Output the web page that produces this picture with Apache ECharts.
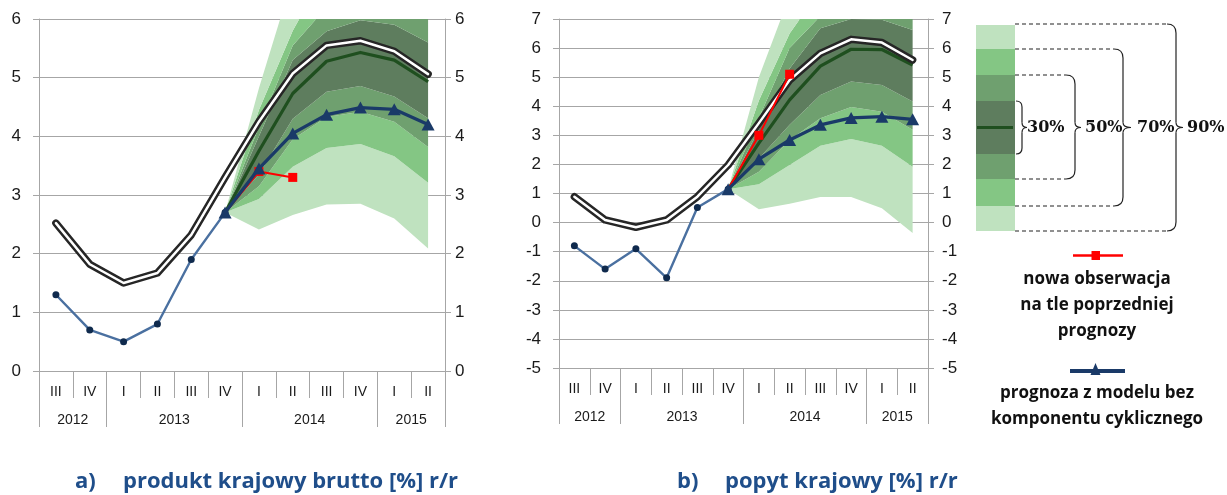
<!DOCTYPE html>
<html>
<head>
<meta charset="utf-8">
<title>Wachlarz prognoz</title>
<script src="https://cdn.jsdelivr.net/npm/echarts@6/dist/echarts.min.js"></script>
<style>
  html, body { margin: 0; padding: 0; background: #fff; }
  #chart { width: 1227px; height: 495px; }
</style>
</head>
<body>
<div id="chart"></div>
<script>
// ---- categories ----
const quarters = ['III', 'IV', 'I', 'II', 'III', 'IV', 'I', 'II', 'III', 'IV', 'I', 'II'];
const yearLabels = ['2012', '2013', '2014', '2015'];
const yearSpans = [2, 4, 4, 2];
const forecastStart = 5; // IV 2013: first point of the fan

// ---- a) produkt krajowy brutto [%] r/r ----
const gdpHistory = [1.3, 0.7, 0.5, 0.8, 1.9, 2.7, null, null, null, null, null, null];
const gdpPrevForecast = [2.52, 1.82, 1.5, 1.67, 2.32, 3.3, 4.25, 5.07, 5.55, 5.63, 5.45, 5.06];
const gdpNewObs = [2.7, 3.4, 3.3];
const gdpNoCycle = [2.7, 3.45, 4.05, 4.37, 4.49, 4.46, 4.2];
const gdpMedian = [2.7, 3.75, 4.73, 5.28, 5.43, 5.3, 4.93];
const gdpL90 = [2.7, 2.41, 2.66, 2.84, 2.85, 2.6, 2.09];
const gdpL70 = [2.7, 2.93, 3.48, 3.8, 3.87, 3.66, 3.21];
const gdpL50 = [2.7, 3.15, 3.95, 4.33, 4.42, 4.25, 3.82];
const gdpL30 = [2.7, 3.35, 4.3, 4.76, 4.86, 4.68, 4.31];
const gdpU30 = [2.7, 4.0, 5.3, 5.79, 5.98, 5.9, 5.6];
const gdpU50 = [2.7, 4.16, 5.55, 6.2, 6.4, 6.4, 6.2];
const gdpU70 = [2.7, 4.45, 5.8, 6.84, 7.0, 7.0, 6.8];
const gdpU90 = [2.7, 4.82, 6.7, 7.6, 8.0, 8.0, 7.8];

// ---- b) popyt krajowy [%] r/r ----
const ddHistory = [-0.8, -1.6, -0.9, -1.9, 0.52, 1.15, null, null, null, null, null, null];
const ddPrevForecast = [0.89, 0.09, -0.16, 0.09, 0.89, 1.98, 3.42, 4.9, 5.82, 6.3, 6.19, 5.59];
const ddNewObs = [1.15, 3.0, 5.1];
const ddNoCycle = [1.15, 2.18, 2.84, 3.36, 3.6, 3.64, 3.55];
const ddMedian = [1.15, 2.73, 4.22, 5.38, 5.96, 5.95, 5.42];
const ddL90 = [1.15, 0.46, 0.65, 0.88, 0.88, 0.49, -0.36];
const ddL70 = [1.15, 1.32, 1.98, 2.64, 2.87, 2.64, 1.92];
const ddL50 = [1.15, 1.75, 2.84, 3.59, 3.97, 3.81, 3.19];
const ddL30 = [1.15, 2.2, 3.36, 4.39, 4.85, 4.73, 4.16];
const ddU30 = [1.15, 3.2, 5.3, 6.68, 7.0, 6.97, 6.62];
const ddU50 = [1.15, 3.6, 6.0, 7.1, 7.6, 7.6, 7.3];
const ddU70 = [1.15, 4.2, 6.5, 8.0, 8.4, 8.4, 8.0];
const ddU90 = [1.15, 5.0, 7.8, 9.0, 9.5, 9.5, 9.0];

// ---- styles ----
const C = {
  grid: '#a6a6a6',
  text: '#1a1a1a',
  light: '#bfe2bf',
  medium: '#84c684',
  olive: '#6fa06f',
  dark: '#5e7d5e',
  median: '#1f4f1f',
  prev: '#262626',
  history: '#4a70a0',
  historyDot: '#0f2a4d',
  noCycle: '#1a3a68',
  red: '#ff0000',
  title: '#1f4e8a'
};
const sans = '"Liberation Sans", Arial, sans-serif';
const calibriLike = '"Open Sans", Lato, sans-serif';

const pad = arr => Array(forecastStart).fill(null).concat(arr);
const padTail = arr => arr.concat(Array(quarters.length - forecastStart - arr.length).fill(null));

function yearBounds() {
  const b = [0];
  yearSpans.forEach(s => b.push(b[b.length - 1] + s));
  return b;
}
function yearMids() {
  const b = yearBounds();
  return yearSpans.map((s, i) => b[i] + s / 2);
}

function xAxesFor(gi) {
  const mids = yearMids();
  return [
    {
      gridIndex: gi, type: 'category', data: quarters, boundaryGap: true,
      axisLine: { show: true, onZero: false, lineStyle: { color: C.grid, width: 1 } },
      axisTick: { show: true, interval: 0, length: 27, lineStyle: { color: C.grid } },
      axisLabel: { interval: 0, margin: 14, fontSize: 14, color: C.text, fontFamily: sans },
      splitLine: { show: false }
    },
    {
      gridIndex: gi, type: 'value', min: 0, max: quarters.length, position: 'bottom',
      axisLine: { show: false, onZero: false },
      axisTick: { show: true, customValues: yearBounds(), length: 56, lineStyle: { color: C.grid } },
      axisLabel: {
        customValues: mids, margin: 42, fontSize: 14, color: C.text, fontFamily: sans,
        formatter: v => yearLabels[mids.indexOf(v)] || ''
      },
      splitLine: { show: false }
    }
  ];
}

function yAxesFor(gi, min, max, leftMargin, rightMargin) {
  const common = {
    gridIndex: gi, type: 'value', min: min, max: max, interval: 1,
    axisLine: { show: true, onZero: false, lineStyle: { color: C.grid, width: 1 } },
    axisTick: { show: true, length: 6, lineStyle: { color: C.grid } },
  };
  return [
    Object.assign({}, common, {
      position: 'left',
      axisLabel: { margin: leftMargin, fontSize: 17, color: C.text, fontFamily: sans },
      splitLine: { show: true, lineStyle: { color: C.grid, width: 1 } }
    }),
    Object.assign({}, common, {
      position: 'right',
      axisLabel: { margin: rightMargin, fontSize: 17, color: C.text, fontFamily: sans, align: 'left' },
      splitLine: { show: false }
    })
  ];
}

function panelSeries(xi, yi, d) {
  const bands = [d.L90, d.L70, d.L50, d.L30, d.U30, d.U50, d.U70, d.U90];
  const fills = [null, C.light, C.medium, C.olive, C.dark, C.olive, C.medium, C.light];
  const stackId = 'fan' + xi;
  const out = bands.map((arr, k) => ({
    type: 'line', xAxisIndex: xi, yAxisIndex: yi,
    stack: stackId, stackStrategy: 'all',
    data: pad(arr.map((v, i) => k === 0 ? v : +(v - bands[k - 1][i]).toFixed(4))),
    symbol: 'none', silent: true, z: 1,
    lineStyle: { width: 0, opacity: 0 },
    areaStyle: k === 0 ? undefined : { color: fills[k], opacity: 1 }
  }));
  const base = { type: 'line', xAxisIndex: xi, yAxisIndex: yi, silent: true, animation: false };
  out.push(Object.assign({}, base, {
    data: pad(d.median), symbol: 'none', z: 3,
    lineStyle: { color: C.median, width: 3.2, join: 'round' }
  }));
  out.push(Object.assign({}, base, {
    data: d.prev, symbol: 'none', z: 4,
    lineStyle: { color: C.prev, width: 7.5, cap: 'round', join: 'round' }
  }));
  out.push(Object.assign({}, base, {
    data: d.prev, symbol: 'none', z: 5,
    lineStyle: { color: '#ffffff', width: 2.5, cap: 'round', join: 'round' }
  }));
  out.push(Object.assign({}, base, {
    data: d.history, symbol: 'circle', symbolSize: 7, z: 6,
    itemStyle: { color: C.historyDot },
    lineStyle: { color: C.history, width: 2.4 }
  }));
  // the new observation starts from the last historical point, which carries no marker
  const obs = padTail(d.newObs).map((v, i) => (i === 0 && v != null) ? { value: v, symbol: 'none' } : v);
  out.push(Object.assign({}, base, {
    data: pad(obs),
    symbol: 'rect', symbolSize: 9, z: 7,
    itemStyle: { color: C.red },
    lineStyle: { color: C.red, width: 2 }
  }));
  out.push(Object.assign({}, base, {
    data: pad(d.noCycle), symbol: 'triangle', symbolSize: [13, 12], z: 8,
    itemStyle: { color: C.noCycle },
    lineStyle: { color: C.noCycle, width: 3.3 }
  }));
  return out;
}

const seriesA = panelSeries(0, 0, {
  history: gdpHistory, prev: gdpPrevForecast, newObs: gdpNewObs, noCycle: gdpNoCycle,
  median: gdpMedian, L90: gdpL90, L70: gdpL70, L50: gdpL50, L30: gdpL30,
  U30: gdpU30, U50: gdpU50, U70: gdpU70, U90: gdpU90
});
const seriesB = panelSeries(2, 2, {
  history: ddHistory, prev: ddPrevForecast, newObs: ddNewObs, noCycle: ddNoCycle,
  median: ddMedian, L90: ddL90, L70: ddL70, L50: ddL50, L30: ddL30,
  U30: ddU30, U50: ddU50, U70: ddU70, U90: ddU90
});

// ---- fan legend (colour key with probability braces) ----
const keyX = 976, keyW = 39;
const keyRows = [
  [25, 49, C.light], [49, 75, C.medium], [75, 101, C.olive], [101, 154, C.dark],
  [154, 179, C.olive], [179, 206, C.medium], [206, 231, C.light]
];
const braceMidY = 127.5;
const braces = [
  // [top, bottom, braceX, tipX, labelX, label]
  [101, 154, 1022, 1027, 1027, '30%'],
  [75, 179, 1075, 1081, 1085, '50%'],
  [49, 206, 1123, 1131, 1137, '70%'],
  [24, 231, 1176, 1183, 1187, '90%']
];
const legendGraphics = [];
keyRows.forEach(r => legendGraphics.push({
  type: 'rect', shape: { x: keyX, y: r[0], width: keyW, height: r[1] - r[0] },
  style: { fill: r[2] }, silent: true
}));
legendGraphics.push({
  type: 'line', shape: { x1: keyX + 1, y1: braceMidY, x2: keyX + keyW - 2, y2: braceMidY },
  style: { stroke: C.median, lineWidth: 3 }, silent: true
});
const braceStroke = { stroke: '#222', lineWidth: 1.2, fill: null };
function curve(x1, y1, cx, cy, x2, y2) {
  return { type: 'bezierCurve', shape: { x1: x1, y1: y1, cpx1: cx, cpy1: cy, x2: x2, y2: y2 },
    style: braceStroke, silent: true };
}
function seg(x1, y1, x2, y2, dash) {
  return { type: 'line', shape: { x1: x1, y1: y1, x2: x2, y2: y2 },
    style: dash ? { stroke: '#222', lineWidth: 1.1, lineDash: [4, 3] } : braceStroke, silent: true };
}
braces.forEach((b, i) => {
  const [t, bt, bx, tx, lx, label] = b;
  const r = i === 0 ? 6 : 9;
  const m = braceMidY;
  if (i > 0) {
    legendGraphics.push(seg(keyX + keyW, t, bx - r, t, true));
    legendGraphics.push(seg(keyX + keyW, bt, bx - r, bt, true));
  }
  legendGraphics.push(
    curve(bx - r, t, bx, t, bx, t + r),
    seg(bx, t + r, bx, m - 5),
    curve(bx, m - 5, bx, m, tx, m),
    curve(tx, m, bx, m, bx, m + 5),
    seg(bx, m + 5, bx, bt - r),
    curve(bx, bt - r, bx, bt, bx - r, bt),
    {
      type: 'text', x: lx, y: m,
      style: {
        text: label, fill: '#111', font: 'bold 16px "DejaVu Serif", serif',
        textAlign: 'left', textVerticalAlign: 'middle'
      }, silent: true
    }
  );
});

// line legend: new observation vs. previous forecast, forecast without cyclical component
const legX = 1097;
legendGraphics.push(
  { type: 'line', shape: { x1: 1073, y1: 255.5, x2: 1123, y2: 255.5 },
    style: { stroke: C.red, lineWidth: 2.5 }, silent: true },
  { type: 'rect', shape: { x: 1091.5, y: 251, width: 8.5, height: 9 },
    style: { fill: C.red }, silent: true },
  { type: 'text', x: legX, y: 305,
    style: { text: 'nowa obserwacja\nna tle poprzedniej\nprognozy', fill: '#111',
      font: 'bold 17px ' + calibriLike, lineHeight: 26,
      textAlign: 'center', textVerticalAlign: 'middle' }, silent: true },
  { type: 'line', shape: { x1: 1070, y1: 371, x2: 1125, y2: 371 },
    style: { stroke: C.noCycle, lineWidth: 4 }, silent: true },
  { type: 'polygon', shape: { points: [[1095.5, 363], [1100.5, 375], [1090.5, 375]] },
    style: { fill: C.noCycle }, silent: true },
  { type: 'text', x: legX, y: 406,
    style: { text: 'prognoza z modelu bez\nkomponentu cyklicznego', fill: '#111',
      font: 'bold 17px ' + calibriLike, lineHeight: 26,
      textAlign: 'center', textVerticalAlign: 'middle' }, silent: true }
);

const titleStyle = { color: C.title, fontSize: 22, fontWeight: 'bold', fontFamily: calibriLike };

const option = {
  animation: false,
  backgroundColor: '#ffffff',
  title: [
    { text: 'a)', left: 75, top: 471, padding: 0, textStyle: titleStyle },
    { text: 'produkt krajowy brutto [%] r/r', left: 123, top: 471, padding: 0, textStyle: titleStyle },
    { text: 'b)', left: 677, top: 471, padding: 0, textStyle: titleStyle },
    { text: 'popyt krajowy [%] r/r', left: 725, top: 471, padding: 0, textStyle: titleStyle }
  ],
  grid: [
    { left: 39, top: 19, width: 406, height: 352, containLabel: false },
    { left: 559, top: 19, width: 369, height: 349, containLabel: false }
  ],
  xAxis: xAxesFor(0).concat(xAxesFor(1)),
  yAxis: yAxesFor(0, 0, 6, 18, 10).concat(yAxesFor(1, -5, 7, 18, 14)),
  series: seriesA.concat(seriesB),
  graphic: legendGraphics
};

const chart = echarts.init(document.getElementById('chart'), null, { renderer: 'canvas' });
chart.setOption(option);
</script>
</body>
</html>
